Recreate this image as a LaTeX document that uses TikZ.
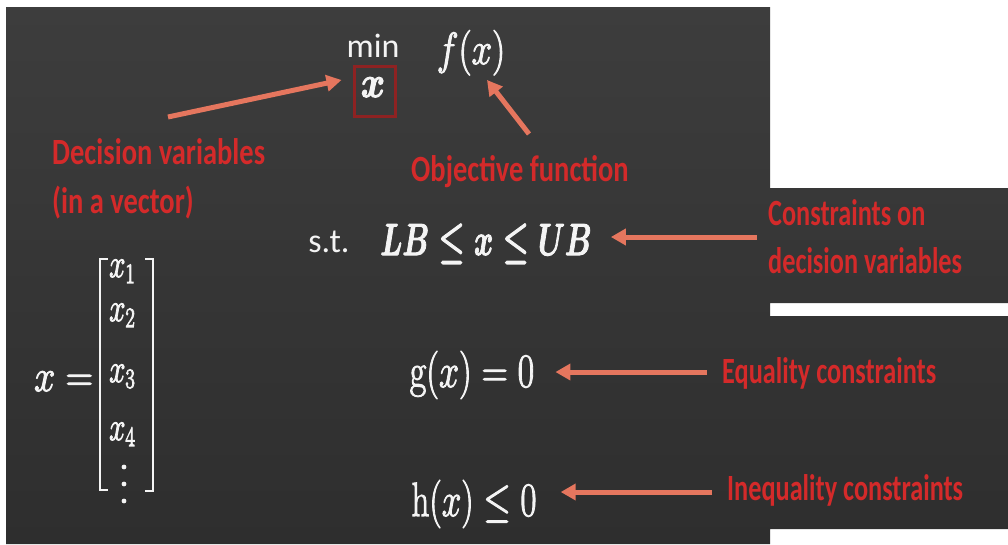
\RequirePackage{fix-cm}
\documentclass[tikz,border=0pt]{standalone}
\usepackage{amsmath}
\usepackage{graphicx}
\usepackage[no-math]{fontspec}
\setmainfont{Carlito}
\usetikzlibrary{arrows.meta,calc}
\definecolor{bgtop}{HTML}{3D3D3D}
\definecolor{bgbot}{HTML}{2E2E2E}
\definecolor{arrowc}{HTML}{E5765E}
\definecolor{labred}{HTML}{D42A2A}
\definecolor{boxred}{HTML}{8E2222}
\definecolor{chalk}{HTML}{F4F4F4}
\newcommand{\hsq}[2]{\scalebox{#1}[1]{#2}}
\newcommand{\heavy}[1]{\special{pdf:literal direct 2 Tr 1.1 w}#1\special{pdf:literal direct 0 Tr}}
\begin{document}
\begin{tikzpicture}[x=1pt,y=-1pt,
  lab/.style={text=labred, inner sep=0pt, font=\fontsize{37}{37}\selectfont\bfseries},
  wtxt/.style={text=chalk, inner sep=0pt, font=\fontsize{34}{34}\selectfont},
  mth/.style={text=chalk, inner sep=0pt},
  dotnode/.style={circle, fill=chalk, inner sep=0pt, minimum size=4.8pt},
  callout/.style={draw=arrowc, line width=5pt, -{Triangle[length=15pt,width=16pt]}},
  bracketline/.style={draw=chalk, line width=2.4pt}
]
\useasboundingbox (0,0) rectangle (1008,544);
\fill[white] (0,0) rectangle (1008,544);
\shade[top color=bgtop, bottom color=bgbot]
  (6,7) rectangle (770,544)
  (770,188) rectangle (1008,303)
  (770,316) rectangle (1008,529);

% objective
\node[wtxt, anchor=base] (min) at (373,57) {min};
\node[mth, anchor=base] (xv) at (373,97) {\hsq{0.84}{\fontsize{44}{44}\selectfont\boldmath\heavy{$x$}}};
\node[draw=boxred, line width=3pt, minimum width=41pt, minimum height=50pt, inner sep=0pt] (xbox) at (374.5,91) {};
\node[mth, anchor=base] (fx) at (471,64) {\hsq{0.82}{\fontsize{45}{45}\selectfont\heavy{$f(x)$}}};

% labels
\node[lab, anchor=base west] (dv1) at (52,164) {\hsq{0.77}{Decision variables}};
\node[lab, anchor=base west] (dv2) at (52,213) {\hsq{0.77}{(in a vector)}};
\node[lab, anchor=base] (obj) at (520,181) {\hsq{0.77}{Objective function}};
\node[lab, anchor=base west] (con1) at (768,225) {\hsq{0.71}{Constraints on}};
\node[lab, anchor=base west] (con2) at (768,273) {\hsq{0.71}{decision variables}};
\node[lab, anchor=base west] (eq) at (722,383) {\hsq{0.71}{Equality constraints}};
\node[lab, anchor=base west] (ineq) at (727,500) {\hsq{0.71}{Inequality constraints}};

% constraints
\node[wtxt, anchor=base] (st) at (329,252) {s.t.};
\node[mth, anchor=base] (lb) at (486,255) {\hsq{0.65}{\fontsize{45}{45}\selectfont\boldmath\heavy{$LB\le x\le UB$}}};
\node[mth, anchor=base] (gx) at (472,387) {\hsq{0.75}{\fontsize{48}{48}\selectfont\heavy{$\mathrm{g}(x)=0$}}};
\node[mth, anchor=base] (hx) at (474,516) {\hsq{0.73}{\fontsize{48}{48}\selectfont\heavy{$\mathrm{h}(x)\le 0$}}};

% vector
\node[mth, anchor=base west] (xeq) at (34,391) {\hsq{0.84}{\fontsize{45}{45}\selectfont\heavy{$x=$}}};
\node[mth, anchor=base west] (x1) at (109,277) {\hsq{0.73}{\fontsize{40}{40}\selectfont\heavy{$x_1$}}};
\node[mth, anchor=base west] (x2) at (109,321) {\hsq{0.73}{\fontsize{40}{40}\selectfont\heavy{$x_2$}}};
\node[mth, anchor=base west] (x3) at (109,382) {\hsq{0.73}{\fontsize{40}{40}\selectfont\heavy{$x_3$}}};
\node[mth, anchor=base west] (x4) at (109,440) {\hsq{0.73}{\fontsize{40}{40}\selectfont\heavy{$x_4$}}};
\node[dotnode] (d1) at (124,467) {};
\node[dotnode] (d2) at (124,484) {};
\node[dotnode] (d3) at (124,501) {};
\draw[bracketline] (108,259) -- (100,259) -- (100,490) -- (108,490);
\draw[bracketline] (145,259) -- (153,259) -- (153,491) -- (145,491);

% arrows
\draw[callout] ($(dv1.base west)+(116,-47)$) -- ($(xbox.west)+(-11,-11)$);
\draw[callout] ($(obj.base)+(9,-47)$) -- ($(fx.base)+(16,16)$);
\draw[callout] ($(con1.base west)+(-11,12)$) -- ($(lb.base east)+(19,-18)$);
\draw[callout] ($(eq.base west)+(-15,-11)$) -- ($(gx.base east)+(21,-15)$);
\draw[callout] ($(ineq.base west)+(-15,-8)$) -- ($(hx.base east)+(24,-24)$);
\end{tikzpicture}
\end{document}
